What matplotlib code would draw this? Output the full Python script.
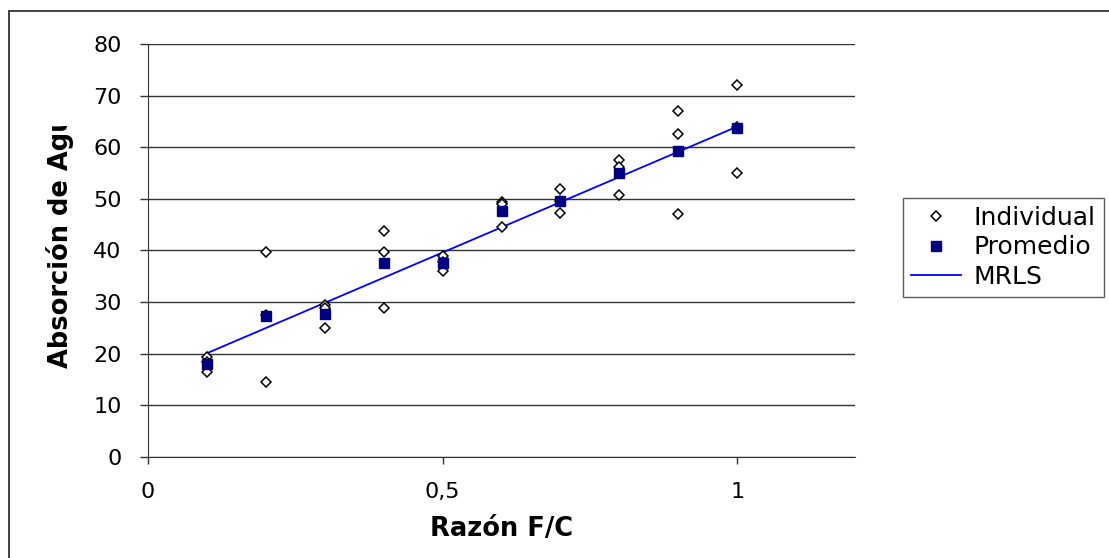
import numpy as np
import matplotlib.pyplot as plt
from matplotlib.patches import Rectangle
from matplotlib.transforms import Bbox, TransformedBbox

plt.rcParams["font.family"] = ["DejaVu Sans"]

# Razón F/C y absorción de agua (%) por probeta
ratio = [0.1, 0.2, 0.3, 0.4, 0.5, 0.6, 0.7, 0.8, 0.9, 1.0]
rep1 = [19.4, 39.8, 29.4, 43.8, 38.9, 49.3, 51.9, 57.5, 67.1, 72.1]
rep2 = [16.5, 14.6, 24.9, 39.7, 36.1, 49.0, 47.3, 56.2, 62.6, 55.0]
rep3 = [18.4, 27.5, 28.8, 28.9, 37.8, 44.6, 49.6, 50.7, 47.1, 63.9]
promedio = [18.1, 27.3, 27.7, 37.6, 37.6, 47.7, 49.6, 55.0, 59.2, 63.7]

# recta del modelo de regresión lineal simple
mrls_x = [0.1, 1.0]
mrls_y = [20.1, 64.0]

W, H = 1109, 558
fig = plt.figure(figsize=(W / 100, H / 100), dpi=100)
ax = fig.add_axes([148 / W, 101 / H, 707 / W, 413 / H])

x_ind = np.concatenate([ratio, ratio, ratio])
y_ind = np.concatenate([rep1, rep2, rep3])

ax.plot(mrls_x, mrls_y, color="#0000ff", lw=1.3, label="MRLS", zorder=3)
ax.plot(x_ind, y_ind, ls="none", marker="D", ms=5.3, mfc="white",
        mec="black", mew=1.1, label="Individual", zorder=4)
ax.plot(ratio, promedio, ls="none", marker="s", ms=6.5, color="#000080",
        label="Promedio", zorder=5)

ax.set_xlim(0, 1.2)
ax.set_ylim(0, 80)
ax.set_xticks([0, 0.5, 1])
ax.set_xticklabels(["0", "0,5", "1"])
ax.set_yticks(range(0, 81, 10))
ax.tick_params(axis="both", labelsize=16, width=1, color="#333333")
ax.tick_params(axis="y", length=6, pad=13)
ax.tick_params(axis="x", length=5, pad=13)
ax.grid(axis="y", color="#333333", lw=1)
ax.set_axisbelow(True)
for side in ["top", "right"]:
    ax.spines[side].set_visible(False)
ax.spines["left"].set_color("#333333")
ax.spines["bottom"].set_color("#333333")

ax.set_xlabel("Razón F/C", fontsize=18.5, fontweight="bold", labelpad=10)

# título del eje y: centrado en el área de trazado y cortado tras "Ag"
renderer = fig.canvas.get_renderer()
probe = fig.text(0, 0, "Absorción de Ag", rotation=90, fontsize=18.5,
                 fontweight="bold")
visible = probe.get_window_extent(renderer).height + 5
probe.remove()
center = 247
bottom = center + visible / 2
ylab = fig.text(60 / W, 1 - bottom / H, "Absorción de Agua", rotation=90,
                ha="center", va="bottom", fontsize=18.5, fontweight="bold")
ylab.set_clip_box(TransformedBbox(Bbox([[0, 0], [1, 1 - (bottom - visible) / H]]),
                                  fig.transFigure))
ylab.set_clip_on(True)

h, l = ax.get_legend_handles_labels()
order = [1, 2, 0]
leg = fig.legend([h[i] for i in order], [l[i] for i in order],
                 loc="upper left", bbox_to_anchor=(903 / W, 1 - 198 / H),
                 fontsize=18, frameon=True, fancybox=False, borderaxespad=0,
                 handlelength=2.0, handletextpad=0.5, labelspacing=0.22,
                 borderpad=0.32)
leg.get_frame().set_edgecolor("#333333")
leg.get_frame().set_linewidth(1)

# borde del área del gráfico
fig.add_artist(Rectangle((9 / W, -0.1), 1.2, 1 - 11.5 / H + 0.1,
                         transform=fig.transFigure, fill=False,
                         edgecolor="#333333", lw=1.3))

fig.savefig("out.png", dpi=100)
